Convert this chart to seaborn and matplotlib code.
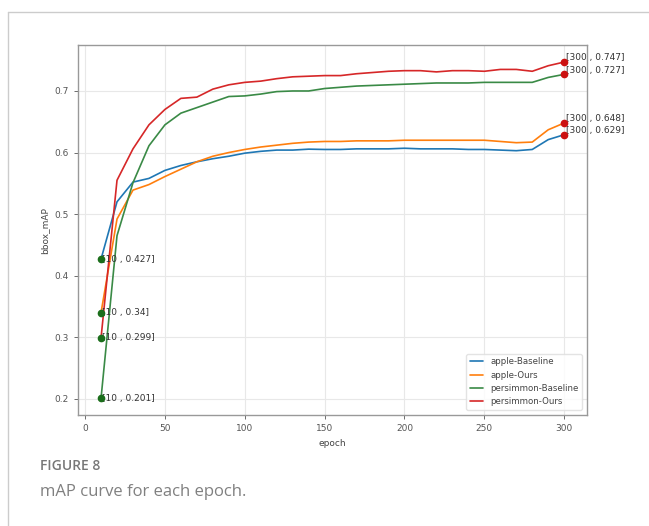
import matplotlib
matplotlib.use("Agg")
import matplotlib.pyplot as plt
import seaborn as sns
import pandas as pd
from matplotlib.lines import Line2D

# mAP per epoch
epochs = [10, 20, 30, 40, 50, 60, 70, 80, 90, 100,
          110, 120, 130, 140, 150, 160, 170, 180, 190, 200,
          210, 220, 230, 240, 250, 260, 270, 280, 290, 300]

apple_baseline = [0.427, 0.520, 0.552, 0.558, 0.571, 0.579, 0.585, 0.590, 0.594, 0.599,
                  0.602, 0.604, 0.604, 0.6055, 0.605, 0.605, 0.606, 0.606, 0.606, 0.607,
                  0.606, 0.606, 0.606, 0.605, 0.605, 0.604, 0.603, 0.605, 0.621, 0.629]

apple_ours = [0.340, 0.492, 0.539, 0.548, 0.561, 0.573, 0.585, 0.594, 0.600, 0.605,
              0.609, 0.612, 0.615, 0.617, 0.618, 0.618, 0.619, 0.619, 0.619, 0.620,
              0.620, 0.620, 0.620, 0.620, 0.620, 0.618, 0.616, 0.617, 0.637, 0.648]

persimmon_baseline = [0.201, 0.465, 0.551, 0.611, 0.645, 0.664, 0.673, 0.682, 0.691, 0.692,
                      0.695, 0.699, 0.700, 0.700, 0.704, 0.706, 0.708, 0.709, 0.710, 0.711,
                      0.712, 0.713, 0.713, 0.713, 0.714, 0.714, 0.714, 0.714, 0.722, 0.727]

persimmon_ours = [0.299, 0.555, 0.606, 0.645, 0.670, 0.688, 0.690, 0.703, 0.710, 0.714,
                  0.716, 0.720, 0.723, 0.724, 0.725, 0.725, 0.728, 0.730, 0.732, 0.733,
                  0.733, 0.731, 0.733, 0.733, 0.732, 0.735, 0.735, 0.732, 0.741, 0.747]

series_names = ["apple-Baseline", "apple-Ours", "persimmon-Baseline", "persimmon-Ours"]
series_values = [apple_baseline, apple_ours, persimmon_baseline, persimmon_ours]
colors = ["#1f77b4", "#ff7f0e", "#3a8a46", "#d62728"]

rows = []
for name, vals in zip(series_names, series_values):
    for e, v in zip(epochs, vals):
        rows.append({"epoch": e, "bbox_mAP": v, "model": name})
df = pd.DataFrame(rows)

sns.set_style("whitegrid", {"grid.color": "#e8e8e8", "axes.edgecolor": "#888888"})
plt.rcParams["font.family"] = ["DejaVu Sans"]

fig = plt.figure(figsize=(6.49, 5.26), dpi=100)
ax = fig.add_axes([0.120, 0.211, 0.785, 0.703])

sns.lineplot(data=df, x="epoch", y="bbox_mAP", hue="model", palette=colors,
             linewidth=1.2, ax=ax)

# start and end points with their labels
for vals in series_values:
    ax.plot(epochs[0], vals[0], "o", color="#1b6e1b", markersize=4.5, zorder=5)
    ax.annotate(f"[{epochs[0]} , {vals[0]}]", (epochs[0], vals[0]),
                xytext=(1, 0), textcoords="offset points",
                fontsize=6.5, color="#333333", va="center", ha="left")
    ax.plot(epochs[-1], vals[-1], "o", color="#cc1111", markersize=4.5, zorder=5)
    ax.annotate(f"[{epochs[-1]} , {vals[-1]}]", (epochs[-1], vals[-1]),
                xytext=(1, 3), textcoords="offset points",
                fontsize=6.5, color="#333333", va="center", ha="left")

ax.set_xticks([0, 50, 100, 150, 200, 250, 300])
ax.set_yticks([0.2, 0.3, 0.4, 0.5, 0.6, 0.7])
ax.tick_params(labelsize=6.5, colors="#555555", length=3, width=0.6)
ax.tick_params(axis="both", which="both", bottom=True, left=True)
ax.set_xlabel("epoch", fontsize=6.5, color="#444444")
ax.set_ylabel("bbox_mAP", fontsize=6.5, color="#444444")
for sp in ax.spines.values():
    sp.set_linewidth(1.0)
    sp.set_color("#999999")

leg = ax.legend(loc="lower right", fontsize=6.2, frameon=True, handlelength=1.6,
                borderaxespad=0.6)
leg.get_frame().set_edgecolor("#dddddd")
for t in leg.get_texts():
    t.set_color("#444444")

# page frame and caption
fig.add_artist(Line2D([8 / 649, 1], [1 - 12 / 526, 1 - 12 / 526], color="#cccccc", lw=1))
fig.add_artist(Line2D([8 / 649, 8 / 649], [0, 1 - 12 / 526], color="#cccccc", lw=1))
fig.text(40 / 649, 1 - 466 / 526, "FIGURE 8", fontsize=10, fontweight="semibold",
         color="#777777", family="Open Sans", va="center")
fig.text(40 / 649, 1 - 492 / 526, "mAP curve for each epoch.", fontsize=12,
         color="#808080", family="Open Sans", va="center")

fig.savefig("out.png", dpi=100)
